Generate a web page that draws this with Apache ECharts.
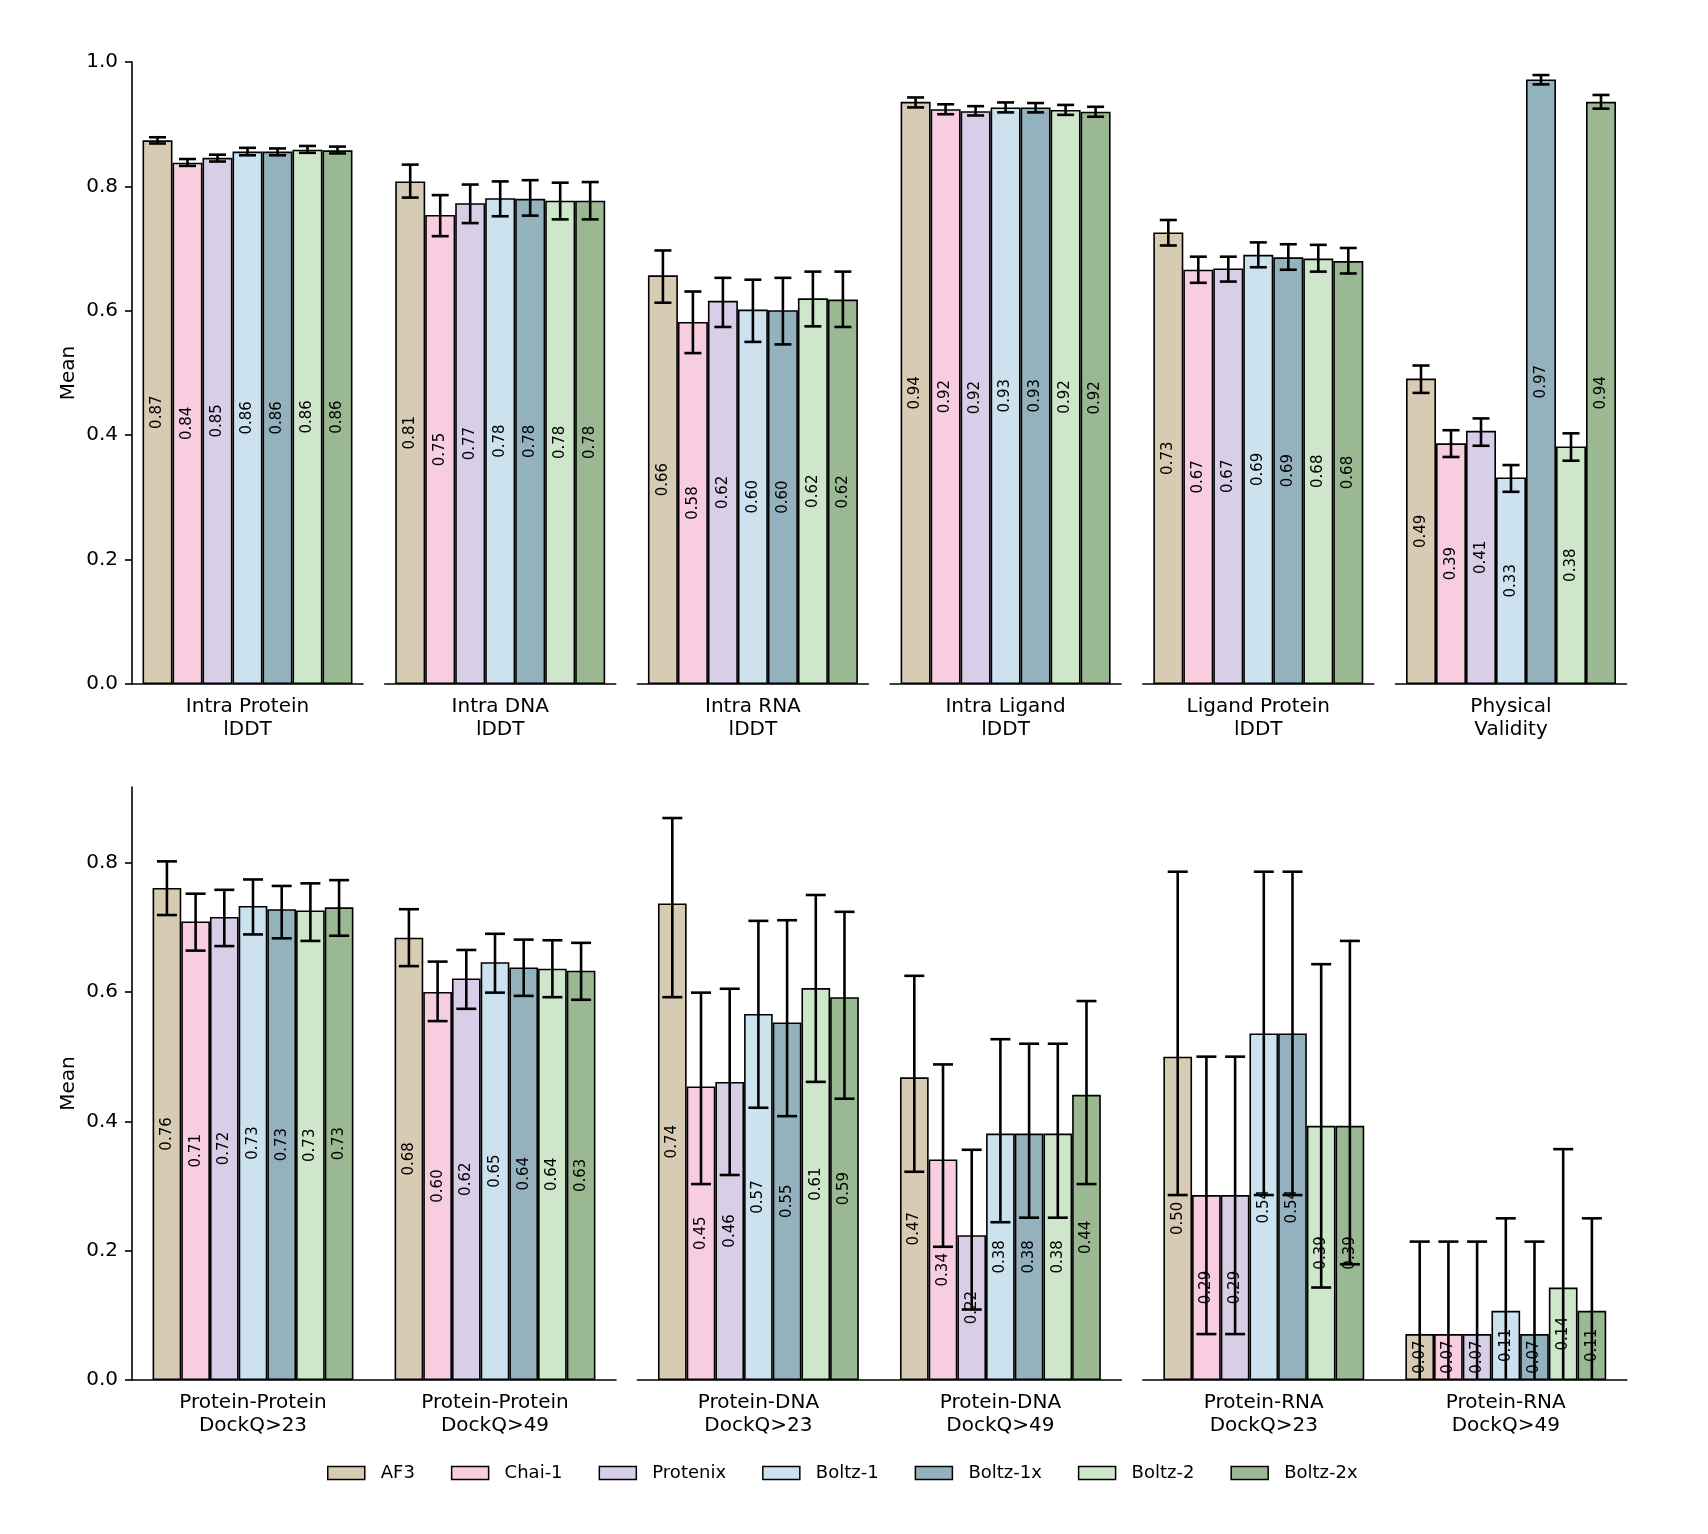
<!DOCTYPE html>
<html>
<head>
<meta charset="utf-8">
<script src="https://cdn.jsdelivr.net/npm/echarts@6/dist/echarts.min.js"></script>
<style>
html, body { margin: 0; background: #fff; }
#chart { width: 1708px; height: 1534px; }
</style>
</head>
<body>
<div id="chart"></div>
<script>
// models and colours
var models = ['AF3', 'Chai-1', 'Protenix', 'Boltz-1', 'Boltz-1x', 'Boltz-2', 'Boltz-2x'];
var colors = ['#d8cbb3', '#f7cddf', '#d9cee8', '#cce2ee', '#94b2bd', '#cee6c9', '#9ab993'];

// top row: one metric per panel
var topCats = ['Intra Protein\nlDDT', 'Intra DNA\nlDDT', 'Intra RNA\nlDDT', 'Intra Ligand\nlDDT', 'Ligand Protein\nlDDT', 'Physical\nValidity'];
var topMean = [
	[0.874, 0.838, 0.846, 0.856, 0.856, 0.859, 0.858],
	[0.808, 0.754, 0.773, 0.781, 0.780, 0.777, 0.777],
	[0.657, 0.582, 0.616, 0.602, 0.601, 0.620, 0.618],
	[0.936, 0.924, 0.921, 0.927, 0.927, 0.923, 0.920],
	[0.726, 0.666, 0.668, 0.690, 0.686, 0.684, 0.680],
	[0.491, 0.387, 0.407, 0.332, 0.972, 0.382, 0.936]
];
var topLow = [
	[0.869, 0.833, 0.840, 0.850, 0.850, 0.854, 0.853],
	[0.782, 0.720, 0.741, 0.752, 0.753, 0.747, 0.747],
	[0.613, 0.532, 0.574, 0.550, 0.546, 0.575, 0.574],
	[0.927, 0.916, 0.914, 0.919, 0.919, 0.915, 0.912],
	[0.705, 0.645, 0.647, 0.670, 0.666, 0.663, 0.660],
	[0.468, 0.365, 0.383, 0.309, 0.964, 0.359, 0.925]
];
var topHigh = [
	[0.879, 0.844, 0.851, 0.862, 0.861, 0.865, 0.864],
	[0.835, 0.786, 0.803, 0.808, 0.810, 0.806, 0.807],
	[0.697, 0.631, 0.653, 0.650, 0.653, 0.663, 0.663],
	[0.943, 0.932, 0.929, 0.935, 0.934, 0.931, 0.928],
	[0.746, 0.687, 0.687, 0.710, 0.707, 0.706, 0.701],
	[0.512, 0.408, 0.427, 0.352, 0.979, 0.403, 0.947]
];

// bottom row: docking success, two thresholds per panel
var botCats = ['Protein-Protein\nDockQ>23', 'Protein-Protein\nDockQ>49', 'Protein-DNA\nDockQ>23', 'Protein-DNA\nDockQ>49', 'Protein-RNA\nDockQ>23', 'Protein-RNA\nDockQ>49'];
var botMean = [
	[0.761, 0.709, 0.716, 0.733, 0.728, 0.726, 0.731],
	[0.684, 0.600, 0.621, 0.646, 0.638, 0.636, 0.633],
	[0.737, 0.454, 0.461, 0.566, 0.553, 0.606, 0.592],
	[0.468, 0.341, 0.224, 0.381, 0.381, 0.381, 0.441],
	[0.500, 0.286, 0.286, 0.536, 0.536, 0.393, 0.393],
	[0.071, 0.071, 0.071, 0.107, 0.071, 0.143, 0.107]
];
var botLow = [
	[0.719, 0.664, 0.671, 0.689, 0.683, 0.679, 0.687],
	[0.640, 0.555, 0.574, 0.599, 0.594, 0.592, 0.588],
	[0.592, 0.303, 0.317, 0.421, 0.408, 0.461, 0.435],
	[0.322, 0.206, 0.109, 0.244, 0.251, 0.251, 0.303],
	[0.286, 0.071, 0.071, 0.286, 0.286, 0.143, 0.179],
	[0, 0, 0, 0, 0, 0, 0]
];
var botHigh = [
	[0.802, 0.752, 0.758, 0.774, 0.764, 0.768, 0.773],
	[0.728, 0.647, 0.665, 0.690, 0.681, 0.680, 0.676],
	[0.869, 0.599, 0.605, 0.710, 0.711, 0.750, 0.724],
	[0.625, 0.488, 0.356, 0.527, 0.520, 0.520, 0.586],
	[0.786, 0.500, 0.500, 0.786, 0.786, 0.643, 0.679],
	[0.214, 0.214, 0.214, 0.250, 0.214, 0.357, 0.250]
];

var topTicks = [0, 0.2, 0.4, 0.6, 0.8, 1.0];
var botTicks = [0, 0.2, 0.4, 0.6, 0.8];

var font = 'DejaVu Sans';
var chart = echarts.init(document.getElementById('chart'));
var grids = [], xAxes = [], yAxes = [], series = [];

function addPanel(left, top, width, height, cats, means, lows, highs, ymax, ticks, showY, gap, cap) {
	var gi = grids.length;
	var fill = 1 - gap / 100;
	grids.push({ left: left, top: top, width: width, height: height });
	xAxes.push({
		type: 'category', gridIndex: gi, data: cats,
		axisLine: { lineStyle: { color: '#000', width: 1.6 } },
		axisTick: { alignWithLabel: true, length: 7, lineStyle: { color: '#000', width: 1.6 } },
		axisLabel: { color: '#000', fontSize: 20, fontFamily: font, lineHeight: 23, margin: 11, interval: 0 }
	});
	yAxes.push({
		type: 'value', gridIndex: gi, min: 0, max: ymax, show: showY,
		splitLine: { show: false },
		axisLine: { show: true, lineStyle: { color: '#000', width: 1.6 } },
		axisTick: { show: true, length: 7, customValues: ticks, lineStyle: { color: '#000', width: 1.6 } },
		axisLabel: { color: '#000', fontSize: 20, fontFamily: font, margin: 14, customValues: ticks,
			formatter: function(v){ return v.toFixed(1); } },
		name: showY ? 'Mean' : '', nameLocation: 'middle', nameGap: 53,
		nameTextStyle: { color: '#000', fontSize: 20, fontFamily: font }
	});
	for (var j = 0; j < models.length; j++) {
		var d = [];
		for (var c = 0; c < cats.length; c++) d.push(means[c][j]);
		series.push({
			type: 'bar', name: models[j], xAxisIndex: gi, yAxisIndex: gi, data: d, z: 2,
			barGap: '0%', barCategoryGap: gap + '%',
			itemStyle: { color: colors[j], borderColor: '#000', borderWidth: 1.6 },
			label: { show: true, position: 'inside', rotate: 90, color: '#000', fontSize: 15, fontFamily: font,
				formatter: function(p){ return p.value.toFixed(2); } }
		});
	}
	// error bars from the lower / upper bounds
	var ed = [];
	for (var c2 = 0; c2 < cats.length; c2++)
		for (var k = 0; k < models.length; k++) ed.push([c2, k, lows[c2][k], highs[c2][k]]);
	series.push({
		type: 'custom', name: 'err', xAxisIndex: gi, yAxisIndex: gi, z: 10, silent: true,
		encode: { x: 0, y: [2, 3] }, data: ed,
		renderItem: function(params, api){
			var c = api.value(0), k = api.value(1), lo = api.value(2), hi = api.value(3);
			var band = api.size([1, 0])[0];
			var pLo = api.coord([c, lo]), pHi = api.coord([c, hi]);
			var gw = band * fill;
			var x = pLo[0] - gw / 2 + (k + 0.5) * gw / models.length;
			var st = { stroke: '#000', lineWidth: 2.6 };
			var kids = [
				{ type: 'line', shape: { x1: x, y1: pLo[1], x2: x, y2: pHi[1] }, style: st },
				{ type: 'line', shape: { x1: x - cap / 2, y1: pHi[1], x2: x + cap / 2, y2: pHi[1] }, style: st }
			];
			if (lo > 0) kids.push({ type: 'line', shape: { x1: x - cap / 2, y1: pLo[1], x2: x + cap / 2, y2: pLo[1] }, style: st });
			return { type: 'group', children: kids };
		}
	});
}

// top row, six panels
for (var i = 0; i < 6; i++) {
	addPanel(132 + i * 252.7, 62, 231, 622, [topCats[i]], [topMean[i]], [topLow[i]], [topHigh[i]],
		1.0, topTicks, i === 0, 9.1, 17);
}
// bottom row, three panels of two groups
for (var b = 0; b < 3; b++) {
	addPanel(132 + b * 505.4, 787, 484, 593, [botCats[2 * b], botCats[2 * b + 1]],
		[botMean[2 * b], botMean[2 * b + 1]], [botLow[2 * b], botLow[2 * b + 1]], [botHigh[2 * b], botHigh[2 * b + 1]],
		0.917, botTicks, b === 0, 17, 20);
}

chart.setOption({
	animation: false,
	backgroundColor: '#fff',
	textStyle: { fontFamily: font },
	legend: {
		data: models, left: 322, top: 1459, icon: 'rect',
		itemWidth: 37, itemHeight: 13, itemGap: 36,
		itemStyle: { borderColor: '#000', borderWidth: 1.5 },
		textStyle: { color: '#000', fontSize: 18, fontFamily: font, padding: [0, 0, 0, 11] }
	},
	grid: grids,
	xAxis: xAxes,
	yAxis: yAxes,
	series: series
});
</script>
</body>
</html>
